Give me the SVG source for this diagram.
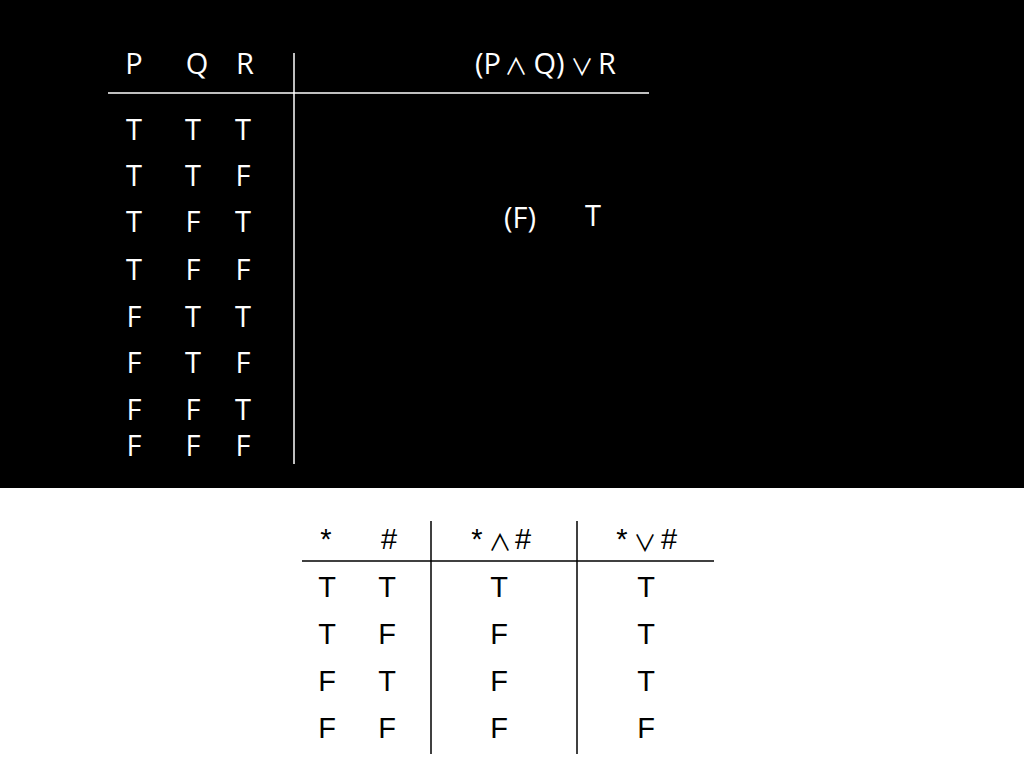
<svg xmlns="http://www.w3.org/2000/svg" width="1024" height="768" viewBox="0 0 1024 768">
<style>
.w{fill:#fff;font-family:"Open Sans","Noto Sans",sans-serif;font-size:29px;text-anchor:middle}
.b{fill:#000;font-family:"Liberation Sans",Arial,sans-serif;font-size:29px;text-anchor:middle}
.op{font-family:"Noto Sans CJK JP",sans-serif;font-size:23px}
.lw{stroke:#fff;stroke-width:1.5}
.lb{stroke:#000;stroke-width:1.5}
</style>
<rect x="0" y="0" width="1024" height="768" fill="#fff"/>
<rect x="0" y="0" width="1024" height="488" fill="#000"/>
<g id="top-table">
<g id="top-lines">
<line class="lw" x1="108" y1="93" x2="649" y2="93"/>
<line class="lw" x1="294" y1="53" x2="294" y2="464"/>
</g>
<g id="top-header">
<text class="w" x="134" y="74">P</text>
<text class="w" x="197" y="74">Q</text>
<text class="w" x="245" y="74">R</text>
<g id="top-formula">
<text class="w" x="488" y="74">(P</text>
<text class="w op" x="516" y="75">∧</text>
<text class="w" x="549" y="74">Q)</text>
<text class="w op" x="582" y="75">∨</text>
<text class="w" x="607" y="74">R</text>
</g>
</g>
<g id="top-rows">
<text class="w" x="134" y="140">T</text><text class="w" x="193" y="140">T</text><text class="w" x="243" y="140">T</text>
<text class="w" x="134" y="186">T</text><text class="w" x="193" y="186">T</text><text class="w" x="243" y="186">F</text>
<text class="w" x="134" y="232">T</text><text class="w" x="193" y="232">F</text><text class="w" x="243" y="232">T</text>
<text class="w" x="134" y="280">T</text><text class="w" x="193" y="280">F</text><text class="w" x="243" y="280">F</text>
<text class="w" x="134" y="327">F</text><text class="w" x="193" y="327">T</text><text class="w" x="243" y="327">T</text>
<text class="w" x="134" y="373">F</text><text class="w" x="193" y="373">T</text><text class="w" x="243" y="373">F</text>
<text class="w" x="134" y="420">F</text><text class="w" x="193" y="420">F</text><text class="w" x="243" y="420">T</text>
<text class="w" x="134" y="456">F</text><text class="w" x="193" y="456">F</text><text class="w" x="243" y="456">F</text>
</g>
<g id="top-result">
<text class="w" x="520" y="228">(F)</text>
<text class="w" x="593" y="226">T</text>
</g>
</g>
<g id="bottom-table">
<g id="bottom-lines">
<line class="lb" x1="302" y1="561" x2="714" y2="561"/>
<line class="lb" x1="431" y1="521" x2="431" y2="754"/>
<line class="lb" x1="577" y1="521" x2="577" y2="754"/>
</g>
<g id="bottom-header">
<text class="b" x="326" y="549">*</text>
<text class="b" x="389" y="549">#</text>
<text class="b" x="477" y="549">*</text>
<text class="b op" x="500" y="551">∧</text>
<text class="b" x="523" y="549">#</text>
<text class="b" x="622" y="549">*</text>
<text class="b op" x="645" y="551">∨</text>
<text class="b" x="669" y="549">#</text>
</g>
<g id="bottom-rows">
<text class="b" x="327" y="597">T</text><text class="b" x="387" y="597">T</text><text class="b" x="499" y="597">T</text><text class="b" x="646" y="597">T</text>
<text class="b" x="327" y="644">T</text><text class="b" x="387" y="644">F</text><text class="b" x="499" y="644">F</text><text class="b" x="646" y="644">T</text>
<text class="b" x="327" y="691">F</text><text class="b" x="387" y="691">T</text><text class="b" x="499" y="691">F</text><text class="b" x="646" y="691">T</text>
<text class="b" x="327" y="738">F</text><text class="b" x="387" y="738">F</text><text class="b" x="499" y="738">F</text><text class="b" x="646" y="738">F</text>
</g>
</g>
</svg>
